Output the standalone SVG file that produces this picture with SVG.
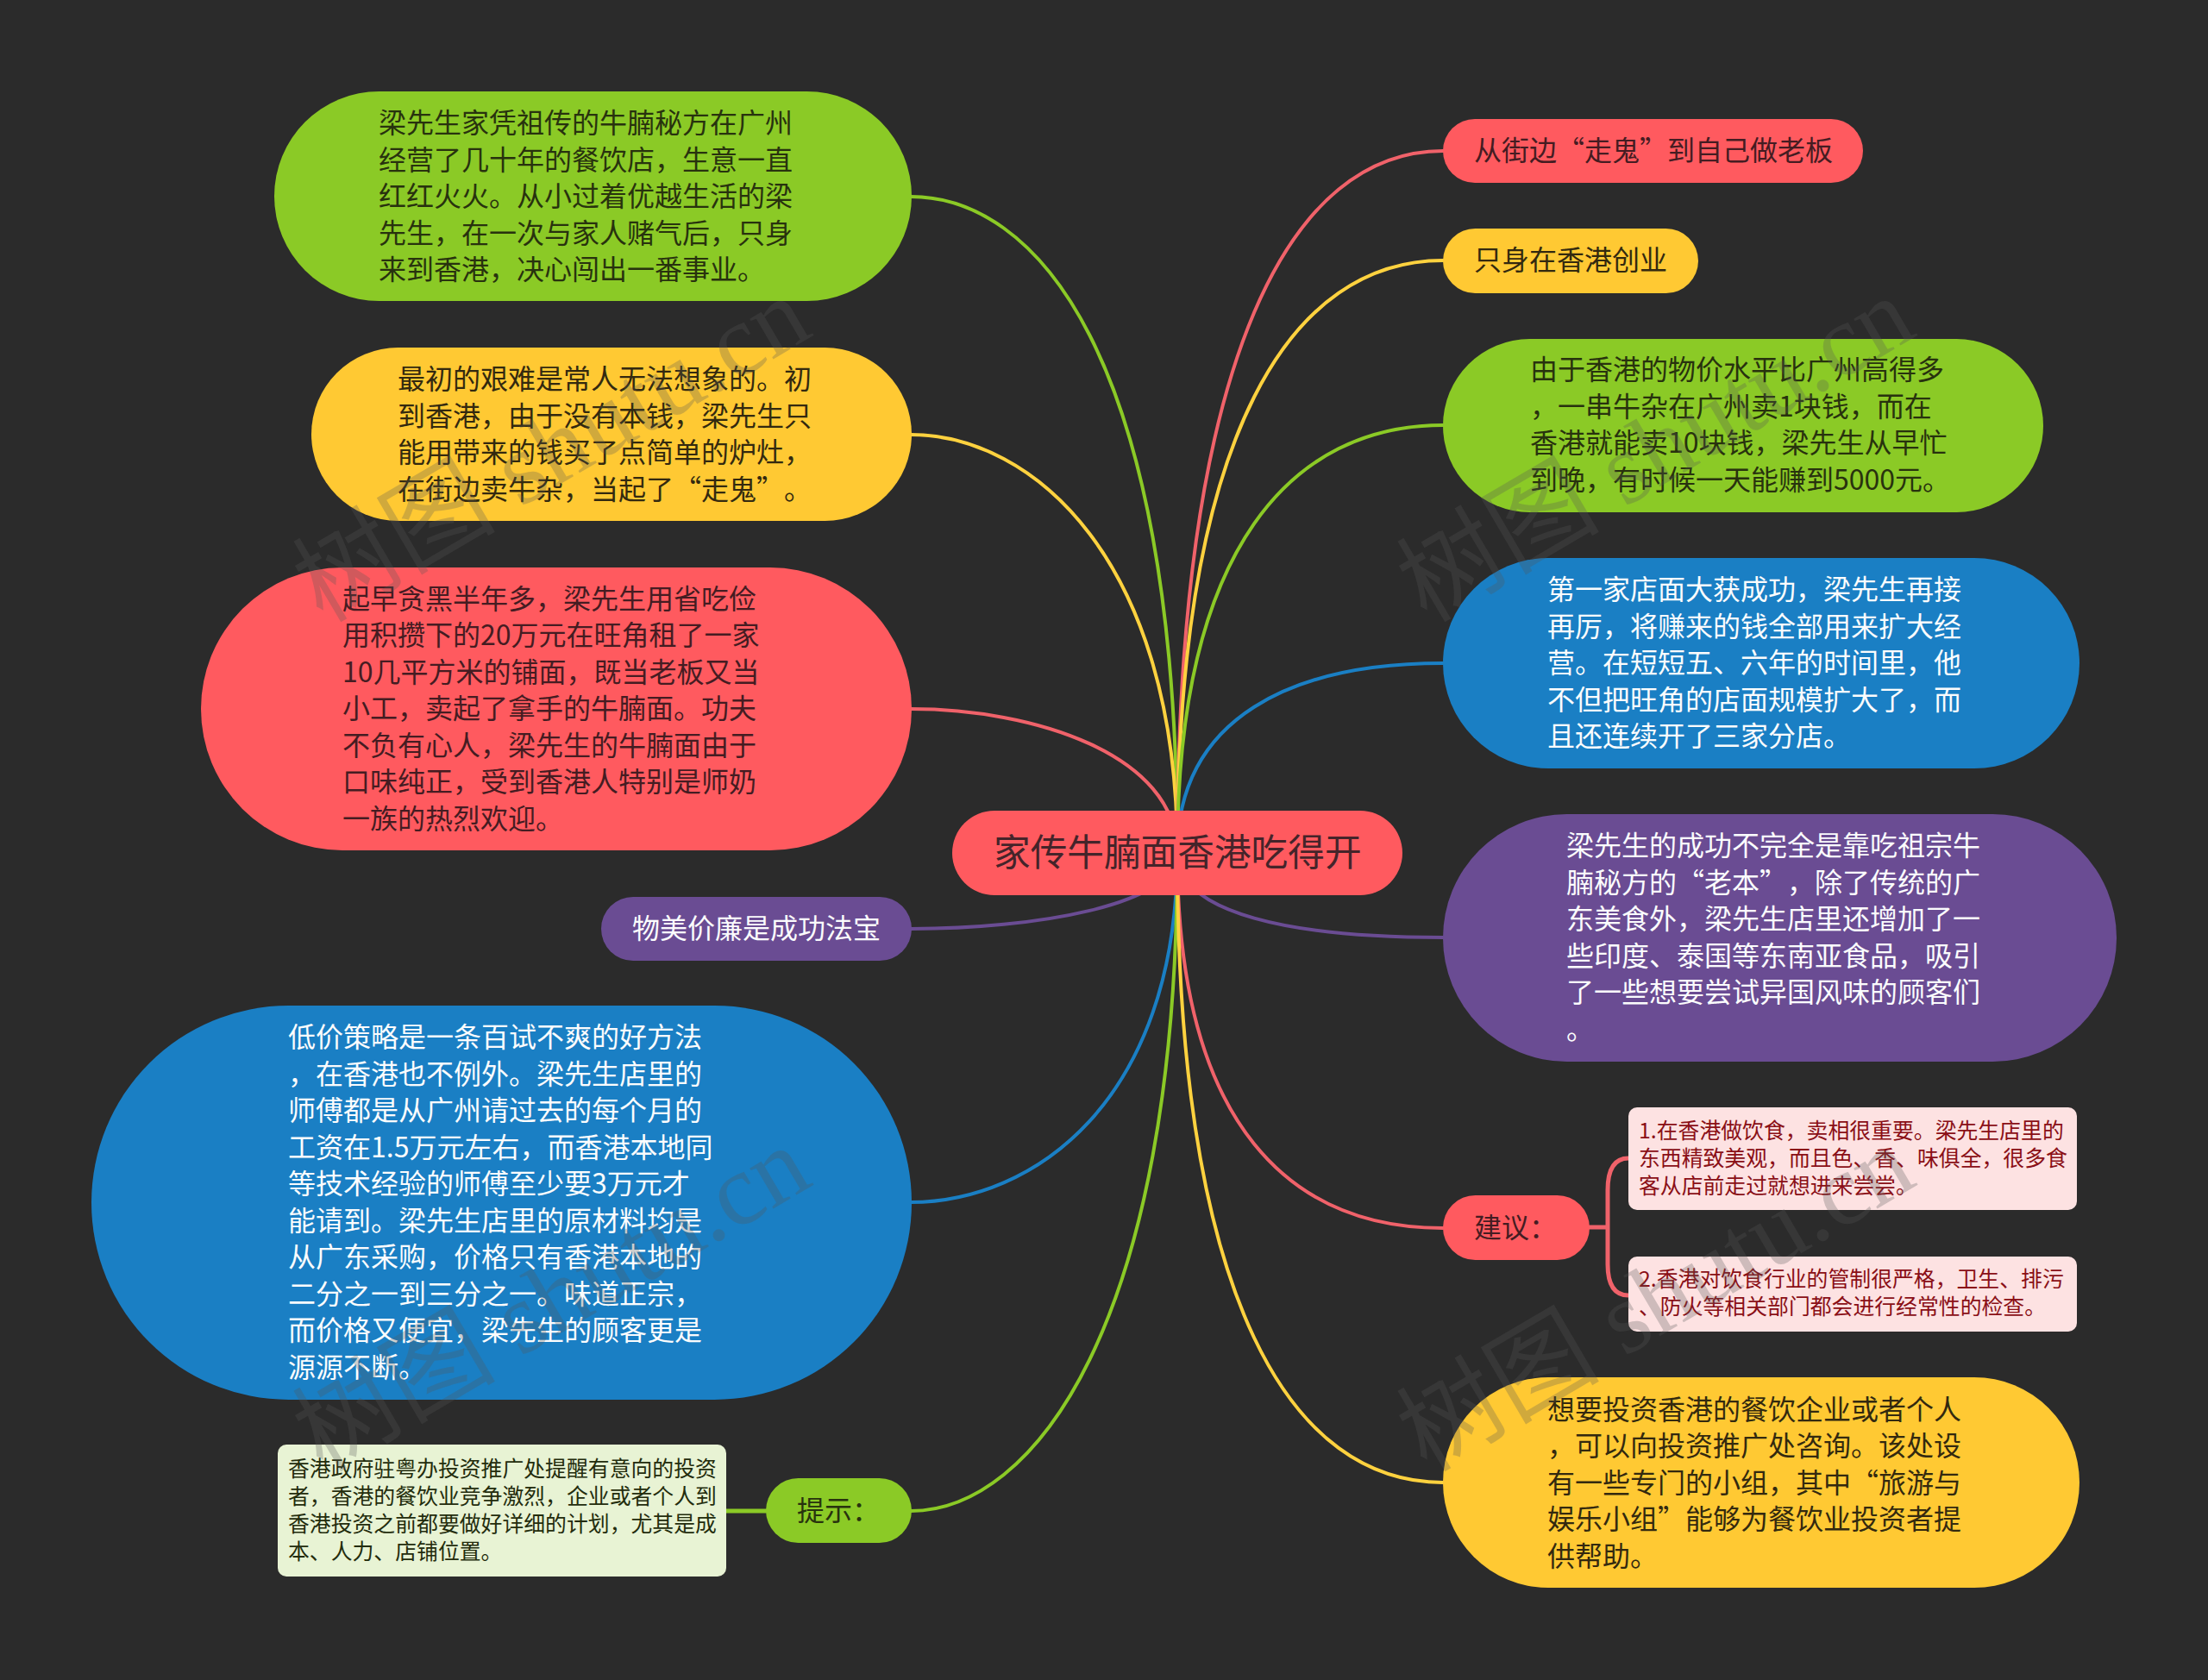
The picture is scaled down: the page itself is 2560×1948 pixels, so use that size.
<svg xmlns="http://www.w3.org/2000/svg" width="2560" height="1948" viewBox="0 0 2560 1948">
<style>
text{font-family:"Noto Sans CJK SC","Noto Sans",sans-serif;font-weight:400;text-spacing-trim:space-all}
.t{font-size:32px}.s{font-size:24.85px}.c{font-size:42.67px;fill:#45242a}
.d{fill:#28320e}.dy{fill:#33290f}.dr{fill:#451c22}.w{fill:#fbfcfd}
.g{fill:#8bca26}.y{fill:#ffc933}.r{fill:#ff5a5f}.b{fill:#1a7fc4}.p{fill:#6a4c93}
.l{fill:none;stroke-width:4;stroke-linecap:round}
.lg{stroke:#8bca26}.ly{stroke:#ffd23f}.lr{stroke:#f0626a}.lb{stroke:#1a7fc4}.lp{stroke:#6a4c93}
.wm{font-family:"Liberation Serif","Noto Sans CJK SC",serif;font-size:118px;fill:#555;fill-opacity:.28}
</style>
<rect id="background" width="2560" height="1948" fill="#2b2b2b"/>
<g id="connectors">
<path class="l lg" d="M1365 989C1365 403 1197 228 1056 228"/>
<path class="l ly" d="M1365 989C1365 649 1197 504 1056 504"/>
<path class="l lr" d="M1365 989C1365 874 1197 822 1056 822"/>
<path class="l lp" d="M1365 989C1365 1050 1197 1077 1056 1077"/>
<path class="l lb" d="M1365 989C1365 1278 1197 1394 1056 1394"/>
<path class="l lg" d="M1365 989C1365 1538 1197 1752 1056 1752"/>
<path class="l lr" d="M1365 989C1365 403 1500 175 1673 175"/>
<path class="l ly" d="M1365 989C1365 495 1500 302 1673 302"/>
<path class="l lg" d="M1365 989C1365 632 1500 493 1673 493"/>
<path class="l lb" d="M1365 989C1365 831 1500 769 1673 769"/>
<path class="l lp" d="M1365 989C1365 1060 1500 1087 1673 1087"/>
<path class="l lr" d="M1365 989C1365 1309 1500 1424 1673 1424"/>
<path class="l ly" d="M1365 989C1365 1515 1500 1719 1673 1719"/>
<path class="l lr" style="stroke-width:5" d="M1843 1423H1864M1888 1343C1872 1343 1864 1356 1864 1380V1466C1864 1490 1872 1502 1888 1502"/>
<path class="l lg" style="stroke-width:5" d="M842 1752H888"/>
</g>
<g id="center"><rect class="r" x="1104" y="940" width="522" height="98" rx="49"/>
<text class="c" x="1152" y="1004">家传牛腩面香港吃得开</text></g>
<g id="n1"><rect class="g" x="318" y="106" width="739" height="243" rx="121.5"/>
<text class="t d" transform="translate(439 154)"><tspan x="0">梁先生家凭祖传的牛腩秘方在广州</tspan><tspan x="0" dy="42.5">经营了几十年的餐饮店，生意一直</tspan><tspan x="0" dy="42.5">红红火火。从小过着优越生活的梁</tspan><tspan x="0" dy="42.5">先生，在一次与家人赌气后，只身</tspan><tspan x="0" dy="42.5">来到香港，决心闯出一番事业。</tspan></text></g>
<g id="n2"><rect class="y" x="361" y="403" width="696" height="201" rx="100.5"/>
<text class="t dy" transform="translate(461 451)"><tspan x="0">最初的艰难是常人无法想象的。初</tspan><tspan x="0" dy="42.5">到香港，由于没有本钱，梁先生只</tspan><tspan x="0" dy="42.5">能用带来的钱买了点简单的炉灶，</tspan><tspan x="0" dy="42.5">在街边卖牛杂，当起了“走鬼”。</tspan></text></g>
<g id="n3"><rect class="r" x="233" y="658" width="824" height="328" rx="164"/>
<text class="t dr" transform="translate(397 705.5)"><tspan x="0">起早贪黑半年多，梁先生用省吃俭</tspan><tspan x="0" dy="42.5">用积攒下的20万元在旺角租了一家</tspan><tspan x="0" dy="42.5">10几平方米的铺面，既当老板又当</tspan><tspan x="0" dy="42.5">小工，卖起了拿手的牛腩面。功夫</tspan><tspan x="0" dy="42.5">不负有心人，梁先生的牛腩面由于</tspan><tspan x="0" dy="42.5">口味纯正，受到香港人特别是师奶</tspan><tspan x="0" dy="42.5">一族的热烈欢迎。</tspan></text></g>
<g id="n4"><rect class="p" x="697" y="1040" width="360" height="74" rx="37"/>
<text class="t w" x="733" y="1088">物美价廉是成功法宝</text></g>
<g id="n5"><rect class="b" x="106" y="1166" width="951" height="457" rx="228.5"/>
<text class="t w" transform="translate(334 1214)"><tspan x="0">低价策略是一条百试不爽的好方法</tspan><tspan x="0" dy="42.5">，在香港也不例外。梁先生店里的</tspan><tspan x="0" dy="42.5">师傅都是从广州请过去的每个月的</tspan><tspan x="0" dy="42.5">工资在1.5万元左右，而香港本地同</tspan><tspan x="0" dy="42.5">等技术经验的师傅至少要3万元才</tspan><tspan x="0" dy="42.5">能请到。梁先生店里的原材料均是</tspan><tspan x="0" dy="42.5">从广东采购，价格只有香港本地的</tspan><tspan x="0" dy="42.5">二分之一到三分之一。味道正宗，</tspan><tspan x="0" dy="42.5">而价格又便宜，梁先生的顾客更是</tspan><tspan x="0" dy="42.5">源源不断。</tspan></text></g>
<g id="n6"><rect class="g" x="888" y="1714" width="169" height="75" rx="37.5"/>
<text class="t d" x="924" y="1763">提示：</text></g>
<g id="n6a"><rect x="322" y="1675" width="520" height="153" rx="10" fill="#e8f3d4"/>
<text class="s" fill="#232c0c" transform="translate(334 1712)"><tspan x="0">香港政府驻粤办投资推广处提醒有意向的投资</tspan><tspan x="0" dy="32">者，香港的餐饮业竞争激烈，企业或者个人到</tspan><tspan x="0" dy="32">香港投资之前都要做好详细的计划，尤其是成</tspan><tspan x="0" dy="32">本、人力、店铺位置。</tspan></text></g>
<g id="m1"><rect class="r" x="1673" y="138" width="487" height="74" rx="37"/>
<text class="t dr" x="1709" y="186">从街边“走鬼”到自己做老板</text></g>
<g id="m2"><rect class="y" x="1673" y="265" width="296" height="75" rx="37.5"/>
<text class="t dy" x="1709" y="313">只身在香港创业</text></g>
<g id="m3"><rect class="g" x="1673" y="393" width="696" height="201" rx="100.5"/>
<text class="t d" transform="translate(1774 440)"><tspan x="0">由于香港的物价水平比广州高得多</tspan><tspan x="0" dy="42.5">，一串牛杂在广州卖1块钱，而在</tspan><tspan x="0" dy="42.5">香港就能卖10块钱，梁先生从早忙</tspan><tspan x="0" dy="42.5">到晚，有时候一天能赚到5000元。</tspan></text></g>
<g id="m4"><rect class="b" x="1673" y="647" width="738" height="244" rx="122"/>
<text class="t w" transform="translate(1794 695)"><tspan x="0">第一家店面大获成功，梁先生再接</tspan><tspan x="0" dy="42.5">再厉，将赚来的钱全部用来扩大经</tspan><tspan x="0" dy="42.5">营。在短短五、六年的时间里，他</tspan><tspan x="0" dy="42.5">不但把旺角的店面规模扩大了，而</tspan><tspan x="0" dy="42.5">且还连续开了三家分店。</tspan></text></g>
<g id="m5"><rect class="p" x="1673" y="944" width="781" height="287" rx="143.5"/>
<text class="t w" transform="translate(1816 992)"><tspan x="0">梁先生的成功不完全是靠吃祖宗牛</tspan><tspan x="0" dy="42.5">腩秘方的“老本”，除了传统的广</tspan><tspan x="0" dy="42.5">东美食外，梁先生店里还增加了一</tspan><tspan x="0" dy="42.5">些印度、泰国等东南亚食品，吸引</tspan><tspan x="0" dy="42.5">了一些想要尝试异国风味的顾客们</tspan><tspan x="0" dy="42.5">。</tspan></text></g>
<g id="m6"><rect class="r" x="1673" y="1386" width="170" height="75" rx="37.5"/>
<text class="t dr" x="1709" y="1435">建议：</text></g>
<g id="m6a"><rect x="1888" y="1284" width="520" height="119" rx="10" fill="#fde2e2"/>
<text class="s" fill="#8a0f16" transform="translate(1900 1320)"><tspan x="0">1.在香港做饮食，卖相很重要。梁先生店里的</tspan><tspan x="0" dy="32">东西精致美观，而且色、香、味俱全，很多食</tspan><tspan x="0" dy="32">客从店前走过就想进来尝尝。</tspan></text></g>
<g id="m6b"><rect x="1888" y="1457" width="520" height="87" rx="10" fill="#fde2e2"/>
<text class="s" fill="#8a0f16" transform="translate(1900 1492)"><tspan x="0">2.香港对饮食行业的管制很严格，卫生、排污</tspan><tspan x="0" dy="32">、防火等相关部门都会进行经常性的检查。</tspan></text></g>
<g id="m7"><rect class="y" x="1673" y="1597" width="738" height="244" rx="122"/>
<text class="t dy" transform="translate(1794 1645.5)"><tspan x="0">想要投资香港的餐饮企业或者个人</tspan><tspan x="0" dy="42.5">，可以向投资推广处咨询。该处设</tspan><tspan x="0" dy="42.5">有一些专门的小组，其中“旅游与</tspan><tspan x="0" dy="42.5">娱乐小组”能够为餐饮业投资者提</tspan><tspan x="0" dy="42.5">供帮助。</tspan></text></g>
<g id="watermarks">
<text class="wm" transform="translate(374 723) rotate(-30.4)">树图 shutu.cn</text>
<text class="wm" transform="translate(1654 723) rotate(-30.4)">树图 shutu.cn</text>
<text class="wm" transform="translate(374 1708) rotate(-30.4)">树图 shutu.cn</text>
<text class="wm" transform="translate(1654 1708) rotate(-30.4)">树图 shutu.cn</text>
</g>
</svg>
